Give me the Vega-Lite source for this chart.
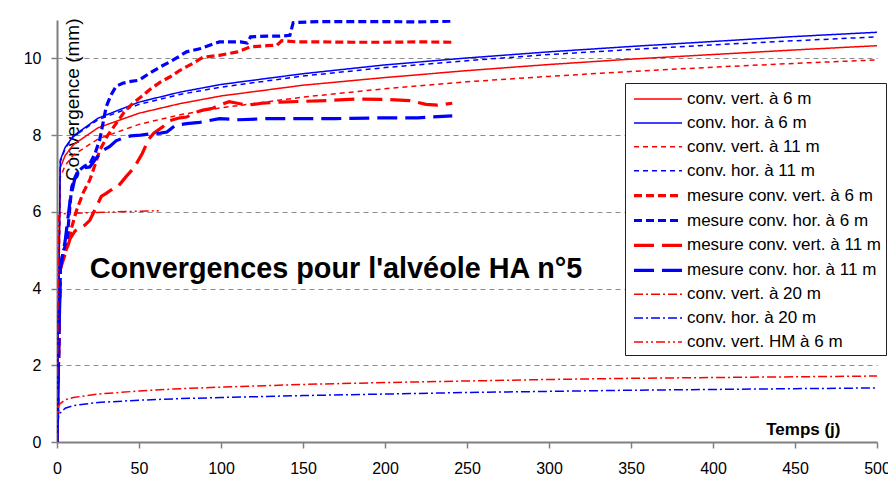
{
  "$schema": "https://vega.github.io/schema/vega-lite/v6.json",
  "width": 820,
  "height": 422,
  "autosize": {"type": "none"},
  "padding": {"left": 57, "top": 20, "right": 11, "bottom": 47},
  "background": "white",
  "config": {"view": {"stroke": null}, "font": "Liberation Sans"},
  "data": {"values": [
    {"s":"conv. vert. à 6 m","t":0,"v":0},{"s":"conv. vert. à 6 m","t":2,"v":7.15},{"s":"conv. vert. à 6 m","t":5,"v":7.47},{"s":"conv. vert. à 6 m","t":10,"v":7.75},{"s":"conv. vert. à 6 m","t":25,"v":8.19},{"s":"conv. vert. à 6 m","t":50,"v":8.57},{"s":"conv. vert. à 6 m","t":75,"v":8.82},{"s":"conv. vert. à 6 m","t":100,"v":9.02},{"s":"conv. vert. à 6 m","t":150,"v":9.3},{"s":"conv. vert. à 6 m","t":200,"v":9.5},{"s":"conv. vert. à 6 m","t":250,"v":9.68},{"s":"conv. vert. à 6 m","t":300,"v":9.84},{"s":"conv. vert. à 6 m","t":350,"v":9.98},{"s":"conv. vert. à 6 m","t":400,"v":10.1},{"s":"conv. vert. à 6 m","t":450,"v":10.22},{"s":"conv. vert. à 6 m","t":500,"v":10.33},
    {"s":"conv. hor. à 6 m","t":0,"v":0},{"s":"conv. hor. à 6 m","t":2,"v":7.35},{"s":"conv. hor. à 6 m","t":5,"v":7.68},{"s":"conv. hor. à 6 m","t":10,"v":7.98},{"s":"conv. hor. à 6 m","t":25,"v":8.44},{"s":"conv. hor. à 6 m","t":50,"v":8.86},{"s":"conv. hor. à 6 m","t":75,"v":9.12},{"s":"conv. hor. à 6 m","t":100,"v":9.32},{"s":"conv. hor. à 6 m","t":150,"v":9.6},{"s":"conv. hor. à 6 m","t":200,"v":9.83},{"s":"conv. hor. à 6 m","t":250,"v":10.01},{"s":"conv. hor. à 6 m","t":300,"v":10.17},{"s":"conv. hor. à 6 m","t":350,"v":10.31},{"s":"conv. hor. à 6 m","t":400,"v":10.44},{"s":"conv. hor. à 6 m","t":450,"v":10.57},{"s":"conv. hor. à 6 m","t":500,"v":10.68},
    {"s":"conv. vert. à 11 m","t":0,"v":0},{"s":"conv. vert. à 11 m","t":2,"v":6.9},{"s":"conv. vert. à 11 m","t":5,"v":7.21},{"s":"conv. vert. à 11 m","t":10,"v":7.48},{"s":"conv. vert. à 11 m","t":25,"v":7.9},{"s":"conv. vert. à 11 m","t":50,"v":8.28},{"s":"conv. vert. à 11 m","t":75,"v":8.53},{"s":"conv. vert. à 11 m","t":100,"v":8.71},{"s":"conv. vert. à 11 m","t":150,"v":8.99},{"s":"conv. vert. à 11 m","t":200,"v":9.21},{"s":"conv. vert. à 11 m","t":250,"v":9.39},{"s":"conv. vert. à 11 m","t":300,"v":9.53},{"s":"conv. vert. à 11 m","t":350,"v":9.66},{"s":"conv. vert. à 11 m","t":400,"v":9.77},{"s":"conv. vert. à 11 m","t":450,"v":9.87},{"s":"conv. vert. à 11 m","t":500,"v":9.96},
    {"s":"conv. hor. à 11 m","t":0,"v":0},{"s":"conv. hor. à 11 m","t":2,"v":7.3},{"s":"conv. hor. à 11 m","t":5,"v":7.65},{"s":"conv. hor. à 11 m","t":10,"v":7.96},{"s":"conv. hor. à 11 m","t":25,"v":8.4},{"s":"conv. hor. à 11 m","t":50,"v":8.8},{"s":"conv. hor. à 11 m","t":75,"v":9.06},{"s":"conv. hor. à 11 m","t":100,"v":9.25},{"s":"conv. hor. à 11 m","t":150,"v":9.54},{"s":"conv. hor. à 11 m","t":200,"v":9.76},{"s":"conv. hor. à 11 m","t":250,"v":9.94},{"s":"conv. hor. à 11 m","t":300,"v":10.1},{"s":"conv. hor. à 11 m","t":350,"v":10.23},{"s":"conv. hor. à 11 m","t":400,"v":10.35},{"s":"conv. hor. à 11 m","t":450,"v":10.46},{"s":"conv. hor. à 11 m","t":500,"v":10.56},
    {"s":"mesure conv. vert. à 6 m","t":0,"v":0},{"s":"mesure conv. vert. à 6 m","t":2,"v":4.5},{"s":"mesure conv. vert. à 6 m","t":4,"v":4.85},{"s":"mesure conv. vert. à 6 m","t":6,"v":5.05},{"s":"mesure conv. vert. à 6 m","t":9,"v":5.6},{"s":"mesure conv. vert. à 6 m","t":12,"v":6.05},{"s":"mesure conv. vert. à 6 m","t":16,"v":6.5},{"s":"mesure conv. vert. à 6 m","t":20,"v":6.83},{"s":"mesure conv. vert. à 6 m","t":23,"v":7.2},{"s":"mesure conv. vert. à 6 m","t":26,"v":7.6},{"s":"mesure conv. vert. à 6 m","t":31,"v":8.0},{"s":"mesure conv. vert. à 6 m","t":36,"v":8.3},{"s":"mesure conv. vert. à 6 m","t":41,"v":8.6},{"s":"mesure conv. vert. à 6 m","t":46,"v":8.82},{"s":"mesure conv. vert. à 6 m","t":52,"v":9.02},{"s":"mesure conv. vert. à 6 m","t":57,"v":9.2},{"s":"mesure conv. vert. à 6 m","t":63,"v":9.38},{"s":"mesure conv. vert. à 6 m","t":69,"v":9.52},{"s":"mesure conv. vert. à 6 m","t":75,"v":9.69},{"s":"mesure conv. vert. à 6 m","t":82,"v":9.85},{"s":"mesure conv. vert. à 6 m","t":89,"v":10.03},{"s":"mesure conv. vert. à 6 m","t":99,"v":10.08},{"s":"mesure conv. vert. à 6 m","t":110,"v":10.17},{"s":"mesure conv. vert. à 6 m","t":118,"v":10.3},{"s":"mesure conv. vert. à 6 m","t":128,"v":10.33},{"s":"mesure conv. vert. à 6 m","t":134,"v":10.34},{"s":"mesure conv. vert. à 6 m","t":137,"v":10.46},{"s":"mesure conv. vert. à 6 m","t":146,"v":10.43},{"s":"mesure conv. vert. à 6 m","t":160,"v":10.43},{"s":"mesure conv. vert. à 6 m","t":180,"v":10.42},{"s":"mesure conv. vert. à 6 m","t":200,"v":10.42},{"s":"mesure conv. vert. à 6 m","t":220,"v":10.43},{"s":"mesure conv. vert. à 6 m","t":241,"v":10.42},
    {"s":"mesure conv. hor. à 6 m","t":0,"v":0},{"s":"mesure conv. hor. à 6 m","t":2,"v":4.6},{"s":"mesure conv. hor. à 6 m","t":4,"v":5.0},{"s":"mesure conv. hor. à 6 m","t":6,"v":5.2},{"s":"mesure conv. hor. à 6 m","t":8,"v":6.2},{"s":"mesure conv. hor. à 6 m","t":9,"v":6.65},{"s":"mesure conv. hor. à 6 m","t":12,"v":7.0},{"s":"mesure conv. hor. à 6 m","t":14,"v":7.1},{"s":"mesure conv. hor. à 6 m","t":17,"v":7.2},{"s":"mesure conv. hor. à 6 m","t":20,"v":7.25},{"s":"mesure conv. hor. à 6 m","t":23,"v":7.5},{"s":"mesure conv. hor. à 6 m","t":26,"v":7.87},{"s":"mesure conv. hor. à 6 m","t":28,"v":8.3},{"s":"mesure conv. hor. à 6 m","t":30,"v":8.74},{"s":"mesure conv. hor. à 6 m","t":33,"v":9.05},{"s":"mesure conv. hor. à 6 m","t":36,"v":9.27},{"s":"mesure conv. hor. à 6 m","t":40,"v":9.35},{"s":"mesure conv. hor. à 6 m","t":45,"v":9.4},{"s":"mesure conv. hor. à 6 m","t":50,"v":9.43},{"s":"mesure conv. hor. à 6 m","t":56,"v":9.6},{"s":"mesure conv. hor. à 6 m","t":63,"v":9.78},{"s":"mesure conv. hor. à 6 m","t":69,"v":9.91},{"s":"mesure conv. hor. à 6 m","t":79,"v":10.17},{"s":"mesure conv. hor. à 6 m","t":87,"v":10.25},{"s":"mesure conv. hor. à 6 m","t":99,"v":10.43},{"s":"mesure conv. hor. à 6 m","t":107,"v":10.43},{"s":"mesure conv. hor. à 6 m","t":112,"v":10.43},{"s":"mesure conv. hor. à 6 m","t":116,"v":10.4},{"s":"mesure conv. hor. à 6 m","t":118,"v":10.56},{"s":"mesure conv. hor. à 6 m","t":128,"v":10.58},{"s":"mesure conv. hor. à 6 m","t":136,"v":10.58},{"s":"mesure conv. hor. à 6 m","t":142,"v":10.6},{"s":"mesure conv. hor. à 6 m","t":144,"v":10.93},{"s":"mesure conv. hor. à 6 m","t":160,"v":10.96},{"s":"mesure conv. hor. à 6 m","t":180,"v":10.96},{"s":"mesure conv. hor. à 6 m","t":200,"v":10.96},{"s":"mesure conv. hor. à 6 m","t":220,"v":10.95},{"s":"mesure conv. hor. à 6 m","t":241,"v":10.97},
    {"s":"mesure conv. vert. à 11 m","t":0,"v":0},{"s":"mesure conv. vert. à 11 m","t":2,"v":4.5},{"s":"mesure conv. vert. à 11 m","t":5,"v":4.9},{"s":"mesure conv. vert. à 11 m","t":8,"v":5.3},{"s":"mesure conv. vert. à 11 m","t":11,"v":5.5},{"s":"mesure conv. vert. à 11 m","t":14,"v":5.6},{"s":"mesure conv. vert. à 11 m","t":17,"v":5.65},{"s":"mesure conv. vert. à 11 m","t":20,"v":5.78},{"s":"mesure conv. vert. à 11 m","t":24,"v":6.13},{"s":"mesure conv. vert. à 11 m","t":27,"v":6.4},{"s":"mesure conv. vert. à 11 m","t":30,"v":6.48},{"s":"mesure conv. vert. à 11 m","t":34,"v":6.6},{"s":"mesure conv. vert. à 11 m","t":37,"v":6.65},{"s":"mesure conv. vert. à 11 m","t":42,"v":6.91},{"s":"mesure conv. vert. à 11 m","t":47,"v":7.15},{"s":"mesure conv. vert. à 11 m","t":52,"v":7.52},{"s":"mesure conv. vert. à 11 m","t":56,"v":7.9},{"s":"mesure conv. vert. à 11 m","t":59,"v":8.05},{"s":"mesure conv. vert. à 11 m","t":64,"v":8.2},{"s":"mesure conv. vert. à 11 m","t":69,"v":8.38},{"s":"mesure conv. vert. à 11 m","t":75,"v":8.45},{"s":"mesure conv. vert. à 11 m","t":79,"v":8.47},{"s":"mesure conv. vert. à 11 m","t":85,"v":8.6},{"s":"mesure conv. vert. à 11 m","t":89,"v":8.65},{"s":"mesure conv. vert. à 11 m","t":95,"v":8.7},{"s":"mesure conv. vert. à 11 m","t":99,"v":8.78},{"s":"mesure conv. vert. à 11 m","t":105,"v":8.87},{"s":"mesure conv. vert. à 11 m","t":110,"v":8.83},{"s":"mesure conv. vert. à 11 m","t":116,"v":8.78},{"s":"mesure conv. vert. à 11 m","t":125,"v":8.83},{"s":"mesure conv. vert. à 11 m","t":136,"v":8.86},{"s":"mesure conv. vert. à 11 m","t":150,"v":8.88},{"s":"mesure conv. vert. à 11 m","t":165,"v":8.9},{"s":"mesure conv. vert. à 11 m","t":183,"v":8.94},{"s":"mesure conv. vert. à 11 m","t":200,"v":8.93},{"s":"mesure conv. vert. à 11 m","t":215,"v":8.9},{"s":"mesure conv. vert. à 11 m","t":225,"v":8.8},{"s":"mesure conv. vert. à 11 m","t":232,"v":8.78},{"s":"mesure conv. vert. à 11 m","t":241,"v":8.83},
    {"s":"mesure conv. hor. à 11 m","t":0,"v":0},{"s":"mesure conv. hor. à 11 m","t":2,"v":4.5},{"s":"mesure conv. hor. à 11 m","t":5,"v":5.25},{"s":"mesure conv. hor. à 11 m","t":8,"v":6.3},{"s":"mesure conv. hor. à 11 m","t":11,"v":6.9},{"s":"mesure conv. hor. à 11 m","t":14,"v":7.1},{"s":"mesure conv. hor. à 11 m","t":17,"v":7.15},{"s":"mesure conv. hor. à 11 m","t":20,"v":7.17},{"s":"mesure conv. hor. à 11 m","t":24,"v":7.4},{"s":"mesure conv. hor. à 11 m","t":28,"v":7.6},{"s":"mesure conv. hor. à 11 m","t":32,"v":7.7},{"s":"mesure conv. hor. à 11 m","t":36,"v":7.85},{"s":"mesure conv. hor. à 11 m","t":40,"v":7.92},{"s":"mesure conv. hor. à 11 m","t":45,"v":7.98},{"s":"mesure conv. hor. à 11 m","t":51,"v":8.0},{"s":"mesure conv. hor. à 11 m","t":57,"v":8.03},{"s":"mesure conv. hor. à 11 m","t":63,"v":8.05},{"s":"mesure conv. hor. à 11 m","t":67,"v":8.08},{"s":"mesure conv. hor. à 11 m","t":72,"v":8.25},{"s":"mesure conv. hor. à 11 m","t":79,"v":8.3},{"s":"mesure conv. hor. à 11 m","t":87,"v":8.33},{"s":"mesure conv. hor. à 11 m","t":99,"v":8.43},{"s":"mesure conv. hor. à 11 m","t":111,"v":8.4},{"s":"mesure conv. hor. à 11 m","t":128,"v":8.43},{"s":"mesure conv. hor. à 11 m","t":146,"v":8.43},{"s":"mesure conv. hor. à 11 m","t":170,"v":8.43},{"s":"mesure conv. hor. à 11 m","t":200,"v":8.45},{"s":"mesure conv. hor. à 11 m","t":220,"v":8.45},{"s":"mesure conv. hor. à 11 m","t":241,"v":8.5},
    {"s":"conv. vert. à 20 m","t":0,"v":0},{"s":"conv. vert. à 20 m","t":1,"v":0.95},{"s":"conv. vert. à 20 m","t":2,"v":1.0},{"s":"conv. vert. à 20 m","t":5,"v":1.1},{"s":"conv. vert. à 20 m","t":10,"v":1.16},{"s":"conv. vert. à 20 m","t":25,"v":1.25},{"s":"conv. vert. à 20 m","t":50,"v":1.33},{"s":"conv. vert. à 20 m","t":75,"v":1.39},{"s":"conv. vert. à 20 m","t":100,"v":1.43},{"s":"conv. vert. à 20 m","t":150,"v":1.5},{"s":"conv. vert. à 20 m","t":200,"v":1.55},{"s":"conv. vert. à 20 m","t":250,"v":1.59},{"s":"conv. vert. à 20 m","t":300,"v":1.63},{"s":"conv. vert. à 20 m","t":350,"v":1.66},{"s":"conv. vert. à 20 m","t":400,"v":1.68},{"s":"conv. vert. à 20 m","t":450,"v":1.7},{"s":"conv. vert. à 20 m","t":500,"v":1.72},
    {"s":"conv. hor. à 20 m","t":0,"v":0},{"s":"conv. hor. à 20 m","t":1,"v":0.7},{"s":"conv. hor. à 20 m","t":2,"v":0.76},{"s":"conv. hor. à 20 m","t":5,"v":0.88},{"s":"conv. hor. à 20 m","t":10,"v":0.95},{"s":"conv. hor. à 20 m","t":25,"v":1.03},{"s":"conv. hor. à 20 m","t":50,"v":1.09},{"s":"conv. hor. à 20 m","t":75,"v":1.13},{"s":"conv. hor. à 20 m","t":100,"v":1.16},{"s":"conv. hor. à 20 m","t":150,"v":1.21},{"s":"conv. hor. à 20 m","t":200,"v":1.25},{"s":"conv. hor. à 20 m","t":250,"v":1.29},{"s":"conv. hor. à 20 m","t":300,"v":1.32},{"s":"conv. hor. à 20 m","t":350,"v":1.35},{"s":"conv. hor. à 20 m","t":400,"v":1.37},{"s":"conv. hor. à 20 m","t":450,"v":1.39},{"s":"conv. hor. à 20 m","t":500,"v":1.41},
    {"s":"conv. vert. HM à 6 m","t":0,"v":0},{"s":"conv. vert. HM à 6 m","t":1,"v":5.9},{"s":"conv. vert. HM à 6 m","t":3,"v":5.95},{"s":"conv. vert. HM à 6 m","t":15,"v":5.97},{"s":"conv. vert. HM à 6 m","t":30,"v":5.99},{"s":"conv. vert. HM à 6 m","t":45,"v":6.01},{"s":"conv. vert. HM à 6 m","t":63,"v":6.03}
  ]},
  "layer": [
    {
      "mark": {"type": "line", "clip": true},
      "encoding": {
        "x": {"field": "t", "type": "quantitative",
          "scale": {"domain": [0, 500], "nice": false},
          "axis": {"values": [0,50,100,150,200,250,300,350,400,450,500], "grid": false,
            "domainColor": "#808080", "domainWidth": 2, "tickColor": "#808080", "tickSize": 6, "tickWidth": 1.5,
            "labelFontSize": 16, "labelColor": "black", "labelPadding": 12, "labelFlush": false,
            "title": "Temps (j)", "titleFontSize": 17, "titleFontWeight": "bold", "titleColor": "black",
            "titleX": 783, "titleY": -8, "titleAlign": "right", "titleBaseline": "alphabetic"}},
        "y": {"field": "v", "type": "quantitative",
          "scale": {"domain": [0, 11], "nice": false},
          "axis": {"values": [0,2,4,6,8,10], "grid": true, "gridColor": "#8c8c8c", "gridDash": [5,4], "gridWidth": 1,
            "domainColor": "#808080", "domainWidth": 2, "tickColor": "#808080", "tickSize": 6, "tickWidth": 1.5,
            "labelFontSize": 16, "labelColor": "black", "labelPadding": 10,
            "title": "Convergence (mm)", "titleFontSize": 19, "titleFontWeight": "normal", "titleColor": "black",
            "titleAngle": 270, "titleX": 15, "titleY": -2, "titleAlign": "right", "titleBaseline": "middle"}},
        "color": {"field": "s", "type": "nominal",
          "scale": {"domain": ["conv. vert. à 6 m","conv. hor. à 6 m","conv. vert. à 11 m","conv. hor. à 11 m","mesure conv. vert. à 6 m","mesure conv. hor. à 6 m","mesure conv. vert. à 11 m","mesure conv. hor. à 11 m","conv. vert. à 20 m","conv. hor. à 20 m","conv. vert. HM à 6 m"],
            "range": ["#ff0000","#0000ff","#ff0000","#0000ff","#ff0000","#0000ff","#ff0000","#0000ff","#ff0000","#0000ff","#ff0000"]},
          "legend": {"orient": "none", "legendX": 568, "legendY": 63, "title": null, "symbolType": "M-0.8,0H4", "symbolSize": 400,
            "labelFontSize": 17, "labelColor": "black", "labelOffset": 33, "labelLimit": 400, "rowPadding": 4.9, "padding": 5,
            "strokeColor": "#222222", "fillColor": "white"}},
        "strokeDash": {"field": "s", "type": "nominal",
          "scale": {"domain": ["conv. vert. à 6 m","conv. hor. à 6 m","conv. vert. à 11 m","conv. hor. à 11 m","mesure conv. vert. à 6 m","mesure conv. hor. à 6 m","mesure conv. vert. à 11 m","mesure conv. hor. à 11 m","conv. vert. à 20 m","conv. hor. à 20 m","conv. vert. HM à 6 m"],
            "range": [[1,0],[1,0],[5,4],[5,4],[8,4],[8,4],[20,8],[20,8],[9,3,2,3],[9,3,2,3],[9,3,2,3,2,3]]}},
        "strokeWidth": {"field": "s", "type": "ordinal",
          "scale": {"type": "ordinal", "domain": ["conv. vert. à 6 m","conv. hor. à 6 m","conv. vert. à 11 m","conv. hor. à 11 m","mesure conv. vert. à 6 m","mesure conv. hor. à 6 m","mesure conv. vert. à 11 m","mesure conv. hor. à 11 m","conv. vert. à 20 m","conv. hor. à 20 m","conv. vert. HM à 6 m"],
            "range": [1.5,1.5,1.5,1.5,3.2,3.2,3.2,3.2,1.5,1.5,1.5]}}
      }
    },
    {
      "data": {"values": [{}]},
      "mark": {"type": "text", "text": "Convergences pour l'alvéole HA n°5", "font": "Liberation Sans", "fontSize": 28.8, "fontWeight": "bold", "color": "black", "align": "left", "baseline": "alphabetic"},
      "encoding": {"x": {"datum": 20}, "y": {"datum": 4.28}}
    }
  ]
}
